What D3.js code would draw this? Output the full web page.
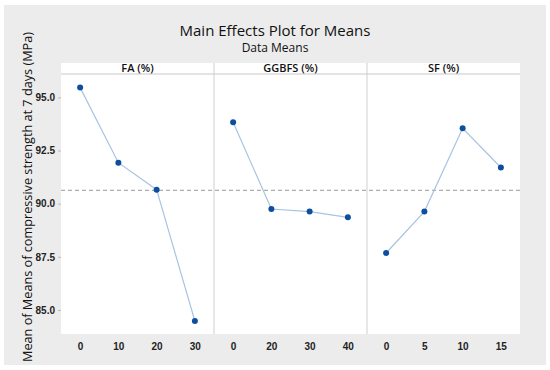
<!DOCTYPE html>
<meta charset="utf-8">
<head>
  <style>
  body { margin: 0; background: #fff; }
  svg { display: block; font-family: "Open Sans", "Noto Sans", sans-serif; }
  .tick text { fill: #222; font-size: 10px; }
  </style>
</head>
<body>
<svg width="550" height="370"></svg>
<script src="https://d3js.org/d3.v7.min.js"></script>
<script>

// factors and their levels
var factors = ["FA (%)", "GGBFS (%)", "SF (%)"];
var faLevels = ["0", "10", "20", "30"];
var ggbfsLevels = ["0", "20", "30", "40"];
var sfLevels = ["0", "5", "10", "15"];

// mean of means
var faMeans = [95.46, 91.93, 90.66, 84.48];
var ggbfsMeans = [93.83, 89.75, 89.63, 89.36];
var sfMeans = [87.68, 89.63, 93.55, 91.70];

var grandMean = 90.63;
var yTicks = [85.0, 87.5, 90.0, 92.5, 95.0];

var panels = [
  {name: factors[0], levels: faLevels, means: faMeans},
  {name: factors[1], levels: ggbfsLevels, means: ggbfsMeans},
  {name: factors[2], levels: sfLevels, means: sfMeans}
];

var svg = d3.select("svg"),
    width = +svg.attr("width"),
    height = +svg.attr("height");

// gray frame
svg.append("rect")
  .attr("x", 4).attr("y", 5)
  .attr("width", 542).attr("height", 360)
  .attr("fill", "#ececec");

var plotLeft = 61, plotRight = 520, plotTop = 74, plotBottom = 334, headTop = 63;

var y = d3.scaleLinear()
  .domain([83.87, 96.1])
  .range([plotBottom, plotTop]);

var panelX = d3.scaleBand()
  .domain(factors)
  .range([plotLeft, plotRight]);

// plot background
svg.append("rect")
  .attr("x", plotLeft).attr("y", headTop)
  .attr("width", plotRight - plotLeft).attr("height", plotBottom - headTop)
  .attr("fill", "#fff");

// titles
svg.append("text")
  .attr("x", 275).attr("y", 36)
  .attr("text-anchor", "middle")
  .attr("font-size", 15)
  .attr("fill", "#111")
  .text("Main Effects Plot for Means");

svg.append("text")
  .attr("x", 275).attr("y", 52)
  .attr("text-anchor", "middle")
  .attr("font-size", 12)
  .attr("fill", "#111")
  .text("Data Means");

svg.append("text")
  .attr("transform", "translate(31.5,197) rotate(-90)")
  .attr("text-anchor", "middle")
  .attr("font-size", 12.7)
  .attr("fill", "#111")
  .text("Mean of Means of compressive strength at 7 days (MPa)");

// y axis
var yAxis = svg.append("g")
  .attr("transform", "translate(" + plotLeft + ",0)")
  .call(d3.axisLeft(y).tickValues(yTicks).tickFormat(d3.format(".1f")).tickSize(3).tickPadding(3));
yAxis.select(".domain").remove();
yAxis.selectAll(".tick line").attr("stroke", "#bbb");
yAxis.selectAll(".tick text").attr("font-weight", 600);

// header strip bottom line
svg.append("line")
  .attr("x1", plotLeft).attr("x2", plotRight)
  .attr("y1", plotTop).attr("y2", plotTop)
  .attr("stroke", "#c8c8c8");

// grand mean reference line
svg.append("line")
  .attr("x1", plotLeft).attr("x2", plotRight)
  .attr("y1", y(grandMean)).attr("y2", y(grandMean))
  .attr("stroke", "#999")
  .attr("stroke-dasharray", "4,3");

panels.forEach(function(p, i) {
  var x0 = panelX(p.name);
  var x = d3.scalePoint()
    .domain(p.levels)
    .range([x0, x0 + panelX.bandwidth()])
    .padding(0.5);

  if (i > 0) {
    svg.append("line")
      .attr("x1", x0).attr("x2", x0)
      .attr("y1", headTop).attr("y2", plotBottom)
      .attr("stroke", "#cfcfcf");
  }

  svg.append("text")
    .attr("x", x0 + panelX.bandwidth() / 2).attr("y", 72)
    .attr("text-anchor", "middle")
    .attr("font-size", 11)
    .attr("font-weight", 600)
    .attr("fill", "#111")
    .text(p.name);

  var xAxis = svg.append("g")
    .attr("transform", "translate(0," + plotBottom + ")")
    .call(d3.axisBottom(x).tickSize(0).tickPadding(9));
  xAxis.select(".domain").remove();
  xAxis.selectAll(".tick text").attr("font-weight", 600);

  var line = d3.line()
    .x(function(d, j) { return x(p.levels[j]); })
    .y(function(d) { return y(d); });

  svg.append("path")
    .datum(p.means)
    .attr("d", line)
    .attr("fill", "none")
    .attr("stroke", "#a9c3e2")
    .attr("stroke-width", 1.2);

  svg.selectAll(".pt" + i)
    .data(p.means)
    .enter().append("circle")
    .attr("cx", function(d, j) { return x(p.levels[j]); })
    .attr("cy", function(d) { return y(d); })
    .attr("r", 3)
    .attr("fill", "#0d4f9e");
});

</script>
</body>
